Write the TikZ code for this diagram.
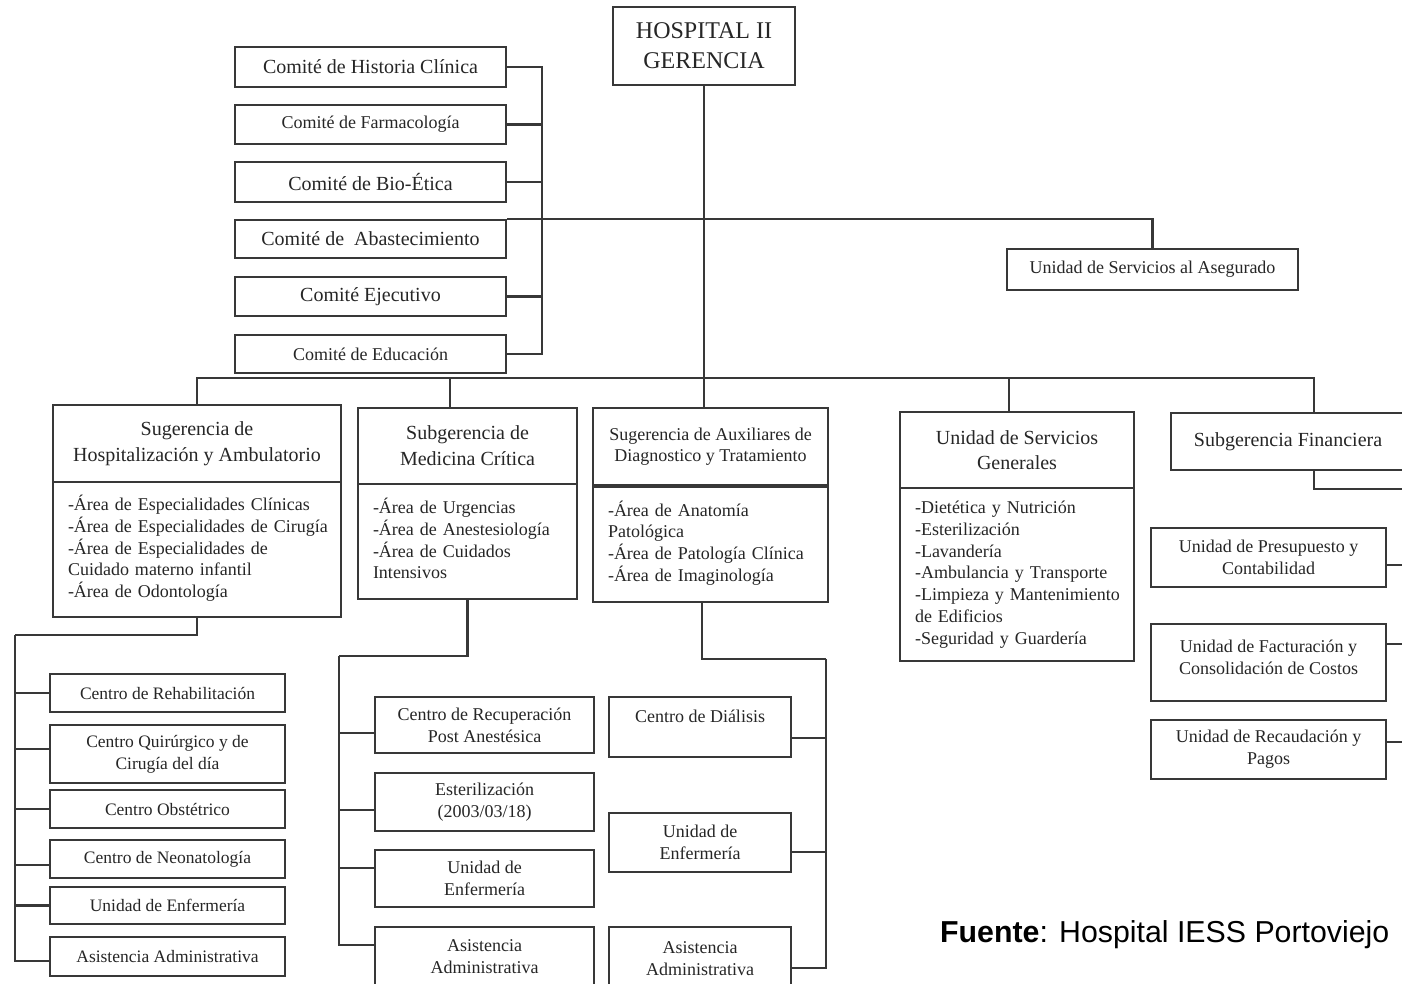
\documentclass[tikz,border=0pt]{standalone}
\usepackage{fontspec}
\setmainfont{Liberation Serif}
\newfontfamily\srcfont{Liberation Sans}
\usetikzlibrary{calc}
\newcommand{\lines}[1]{\begin{tabular}{@{}l@{}}#1\end{tabular}}
\begin{document}
\begin{tikzpicture}[x=1pt,y=-1pt,
  ln/.style={line width=2.1pt, draw=black!78},
  box/.style={draw=black!78, line width=2.1pt, rectangle, inner sep=0pt, align=center, text=black!85, font=\fontsize{18}{22}\selectfont},
  big/.style={font=\fontsize{20}{26}\selectfont},
  body/.style={box, align=left, inner xsep=15pt, font=\fontsize{18}{21.8}\selectfont},
  lvl3/.style={box, font=\fontsize{17.5}{22}\selectfont}]
\useasboundingbox (0,0) rectangle (1402,984);
\clip (0,0) rectangle (1402,984);
\fill[white] (0,0) rectangle (1402,984);

% top
\node[box, minimum width=182, minimum height=78, font=\fontsize{24}{30}\selectfont] (hosp) at (704,46) {HOSPITAL II\\GERENCIA};

% committees
\node[box, big, minimum width=271, minimum height=40] (c1) at (370.5,67) {Comité de Historia Clínica};
\node[box, minimum width=271, minimum height=39] (c2) at (370.5,124.5) {Comité de Farmacología};
\node[box, big, minimum width=271, minimum height=40] (c3) at (370.5,182) {Comité de Bio-Ética};
\node[box, big, minimum width=271, minimum height=38] (c4) at (370.5,239) {Comité de \ Abastecimiento};
\node[box, big, minimum width=271, minimum height=39] (c5) at (370.5,296.5) {Comité Ejecutivo};
\node[box, minimum width=271, minimum height=38] (c6) at (370.5,354) {Comité de Educación};

\node[box, minimum width=291, minimum height=41] (aseg) at (1152.5,269.5) {Unidad de Servicios al Asegurado};

% level 2
\node[box, big, minimum width=288, minimum height=77] (hh) at (197,443.5) {Sugerencia de\\Hospitalización y Ambulatorio};
\node[body, text width=258, minimum height=135] (hb) at (197,549.5) {\lines{-Área de Especialidades Clínicas\\-Área de Especialidades de Cirugía\\-Área de Especialidades de\\Cuidado materno infantil\\-Área de Odontología}};

\node[box, big, minimum width=219, minimum height=76] (mh) at (467.5,446) {Subgerencia de\\Medicina Crítica};
\node[body, text width=189, minimum height=115] (mb) at (467.5,541.5) {\lines{-Área de Urgencias\\-Área de Anestesiología\\-Área de Cuidados\\Intensivos}};

\node[box, minimum width=235, minimum height=77, font=\fontsize{18}{21}\selectfont] (ah) at (710.5,446.5) {Sugerencia de Auxiliares de\\Diagnostico y Tratamiento};
\node[body, text width=205, minimum height=115] (ab) at (710.5,544.5) {\lines{-Área de Anatomía\\Patológica\\-Área de Patología Clínica\\-Área de Imaginología}};

\node[box, big, minimum width=234, minimum height=76, font=\fontsize{20}{25}\selectfont] (sh) at (1017,450) {Unidad de Servicios\\Generales};
\node[body, text width=204, minimum height=173] (sb) at (1017,574.5) {\lines{-Dietética y Nutrición\\-Esterilización\\-Lavandería\\-Ambulancia y Transporte\\-Limpieza y Mantenimiento\\de Edificios\\-Seguridad y Guardería}};

\node[box, big, minimum width=234, minimum height=57] (fh) at (1288,441.5) {Subgerencia Financiera};

% level 3 left
\node[lvl3, minimum width=235, minimum height=38] (r1) at (167.5,693) {Centro de Rehabilitación};
\node[lvl3, minimum width=235, minimum height=58] (r2) at (167.5,754) {Centro Quirúrgico y de\\Cirugía del día};
\node[lvl3, minimum width=235, minimum height=38] (r3) at (167.5,809) {Centro Obstétrico};
\node[lvl3, minimum width=235, minimum height=38] (r4) at (167.5,859) {Centro de Neonatología};
\node[lvl3, minimum width=235, minimum height=37] (r5) at (167.5,905.5) {Unidad de Enfermería};
\node[lvl3, minimum width=235, minimum height=39] (r6) at (167.5,956.5) {Asistencia Administrativa};

% level 3 medicina critica
\node[box, minimum width=219, minimum height=56] (m1) at (484.5,725) {Centro de Recuperación\\Post Anestésica};
\node[box, minimum width=219, minimum height=58] (m2) at (484.5,802) {Esterilización\\(2003/03/18)};
\node[box, minimum width=219, minimum height=57] (m3) at (484.5,878.5) {Unidad de\\Enfermería};
\node[box, minimum width=219, minimum height=60] (m4) at (484.5,957) {Asistencia\\Administrativa};

% level 3 auxiliares
\node[box, minimum width=182, minimum height=60] (a1) at (700,727) {Centro de Diálisis\\ \mbox{}};
\node[box, minimum width=182, minimum height=59] (a2) at (700,842.5) {Unidad de\\Enfermería};
\node[box, minimum width=182, minimum height=63] (a3) at (700,958.5) {Asistencia\\Administrativa};

% level 3 financiera
\node[box, minimum width=235, minimum height=59] (f1) at (1268.5,557.5) {Unidad de Presupuesto y\\Contabilidad};
\node[box, minimum width=235, minimum height=77] (f2) at (1268.5,662.5) {Unidad de Facturación y\\Consolidación de Costos\\[-12pt]\mbox{}};
\node[box, minimum width=235, minimum height=59] (f3) at (1268.5,749.5) {Unidad de Recaudación y\\Pagos};

% source
\node[anchor=base west, inner sep=0pt, font=\srcfont\fontsize{30.3}{36}\selectfont, text=black] (src) at (940,942) {\textbf{Fuente}: Hospital IESS Portoviejo};

% ---- connectors ----
% committee bracket
\coordinate (cb) at (542,0);
\draw[ln] (c1.east) -- (c1.east -| cb) -- (c6.east -| cb) -- (c6.east);
\foreach \n in {c2,c3,c5} \draw[ln] (\n.east) -- (\n.east -| cb);
% line to asegurado
\draw[ln] (c4.north east) -- (c4.north east -| aseg.north) -- (aseg.north);

% main bus
\coordinate (b1) at (197,378);
\coordinate (b2) at (450,378);
\coordinate (b3) at (704,378);
\coordinate (b4) at (1009,378);
\coordinate (b5) at (1314,378);
\draw[ln] (hosp.south) -- (hosp.south |- ah.north);
\draw[ln] (b1 |- hh.north) -- (b1) -- (b5) -- (b5 |- fh.north);
\draw[ln] (b2) -- (b2 |- mh.north);
\draw[ln] (b4) -- (b4 |- sh.north);

% left column
\coordinate (lv) at (15,635);
\draw[ln] (hb.south) -- (hb.south |- lv) -- (lv);
\coordinate (r1s) at (r1.west);
\coordinate (r2s) at ($(r2.north west)!0.41!(r2.south west)$);
\coordinate (r3s) at (r3.west);
\coordinate (r4s) at ($(r4.north west)!0.66!(r4.south west)$);
\coordinate (r5s) at (r5.west);
\coordinate (r6s) at ($(r6.north west)!0.62!(r6.south west)$);
\draw[ln] (lv) -- (lv |- r6s) -- (r6s);
\foreach \n in {r1s,r2s,r3s,r4s,r5s} \draw[ln] (lv |- \n) -- (\n);

% medicina critica column
\coordinate (mv) at (339,656);
\draw[ln] (mb.south) -- (mb.south |- mv) -- (mv);
\coordinate (m1s) at ($(m1.north west)!0.64!(m1.south west)$);
\coordinate (m2s) at ($(m2.north west)!0.64!(m2.south west)$);
\coordinate (m3s) at ($(m3.north west)!0.32!(m3.south west)$);
\coordinate (m4s) at ($(m4.north west)!0.30!(m4.south west)$);
\draw[ln] (mv) -- (mv |- m4s) -- (m4s);
\foreach \n in {m1s,m2s,m3s} \draw[ln] (mv |- \n) -- (\n);

% auxiliares column
\coordinate (ax) at (702,0);
\coordinate (av) at (826,659);
\draw[ln] (ab.south -| ax) -- (ax |- av) -- (av);
\coordinate (a1s) at ($(a1.north east)!0.67!(a1.south east)$);
\coordinate (a2s) at ($(a2.north east)!0.66!(a2.south east)$);
\coordinate (a3s) at ($(a3.north east)!0.65!(a3.south east)$);
\draw[ln] (av) -- (av |- a3s) -- (a3s);
\foreach \n in {a1s,a2s} \draw[ln] (av |- \n) -- (\n);

% financiera column
\coordinate (fv) at (1412,489);
\draw[ln] (b5 |- fh.south) -- (b5 |- fv) -- (fv);
\coordinate (f1s) at ($(f1.north east)!0.63!(f1.south east)$);
\coordinate (f2s) at ($(f2.north east)!0.27!(f2.south east)$);
\coordinate (f3s) at ($(f3.north east)!0.37!(f3.south east)$);
\draw[ln] (fv) -- (fv |- f3s);
\foreach \n in {f1s,f2s,f3s} \draw[ln] (fv |- \n) -- (\n);
\end{tikzpicture}
\end{document}
